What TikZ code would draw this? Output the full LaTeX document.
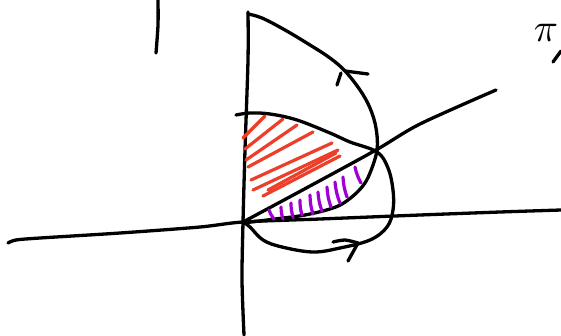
\documentclass[tikz,border=0pt]{standalone}
\definecolor{hred}{RGB}{236,62,40}
\definecolor{hpur}{RGB}{160,0,210}
\begin{document}
\begin{tikzpicture}[x=1pt,y=-1pt,line cap=round,line join=round,
  ink/.style={line width=3.3pt,black},
  redh/.style={line width=3.2pt,hred},
  purh/.style={line width=3.2pt,hpur}]
\useasboundingbox (0,0) rectangle (561,335);
% top-left mark
\draw[ink] plot[smooth] coordinates {(158,0) (158,25) (156,53)};
% vertical axis
\draw[ink] plot[smooth] coordinates {(248,12) (248,60) (245,150) (243,222) (242,280) (244,335)};
% horizontal axis
\draw[ink] plot[smooth] coordinates {(8,243) (16,240) (40,238) (120,233) (200,227) (243,222) (320,219) (420,215) (500,212) (561,210)};
% ray
\draw[ink] plot[smooth] coordinates {(243,222) (310,186) (376,150) (420,124) (496,90)};
% big curve
\draw[ink] plot[smooth,tension=0.6] coordinates {(248,14) (262,18) (285,30) (310,45) (330,58) (345,71) (360,90) (370,108) (376,128) (377,150) (370,173) (362,187) (348,200) (333,208) (305,215) (275,219) (243,223)};
% small loop
\draw[ink] plot[smooth,tension=0.6] coordinates {(236,115) (250,113) (270,114) (297,120) (330,133) (350,142) (377,152) (388,168) (393,190) (393,210) (387,227) (370,240) (340,248) (313,252) (282,247) (263,240) (250,227) (243,222)};
% arrowheads
\draw[ink] (368,74) -- (345,71);
\draw[ink] (341,73) -- (337,85);
\draw[ink] plot[smooth] coordinates {(333,242) (345,240) (358,243)};
\draw[ink] (358,243) -- (348,261);
% red hatching
\draw[redh] (243,138) -- (265,116);
\draw[redh] (245,149) -- (283,119);
\draw[redh] (246,160) -- (297,125);
\draw[redh] (248,167) -- (313,132);
\draw[redh] (251,180) -- (332,143);
\draw[redh] (253,190) -- (338,150);
\draw[redh] (263,196) -- (340,156);
\draw[redh] (268,190) -- (336,153);
% purple hatching
\draw[purh] (269,210) to[bend right=8] (274,219);
\draw[purh] (281,207) to[bend right=8] (283,219);
\draw[purh] (291,203) to[bend right=8] (293,217);
\draw[purh] (300,200) to[bend right=8] (302,215);
\draw[purh] (310,195) to[bend right=8] (313,214);
\draw[purh] (318,192) to[bend right=8] (322,211);
\draw[purh] (327,187) to[bend right=8] (331,207);
\draw[purh] (335,182) to[bend right=8] (340,203);
\draw[purh] (343,177) to[bend right=8] (347,197);
\draw[purh] (355,167) to[bend right=8] (361,183);
% top-right text
\node[inner sep=0pt,scale=4] (pi) at (546,33) {$\pi$};
\draw[ink] (553,62) -- (561,51);
\end{tikzpicture}
\end{document}
